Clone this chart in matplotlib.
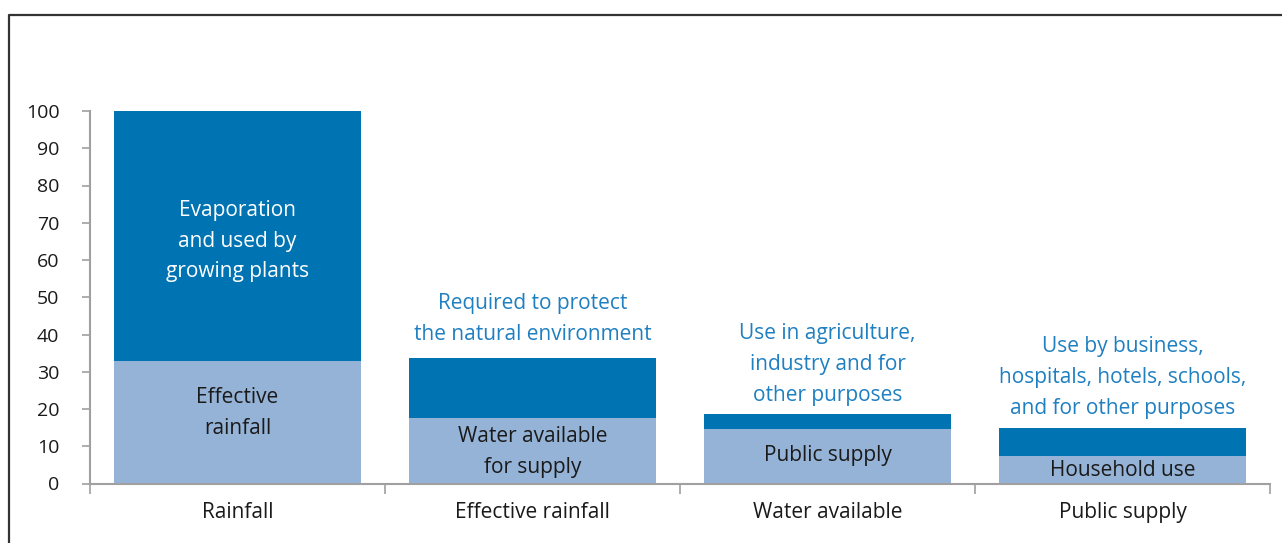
import numpy as np
import matplotlib
matplotlib.use("Agg")
import matplotlib.pyplot as plt
from matplotlib.lines import Line2D

plt.rcParams["font.family"] = ["Open Sans", "DejaVu Sans"]

categories = ["Rainfall", "Effective rainfall", "Water available", "Public supply"]
lower = [33.0, 17.7, 14.5, 7.3]
upper = [67.0, 15.9, 4.1, 7.7]
lower_labels = ["Effective\nrainfall", "Water available\nfor supply", "Public supply", "Household use"]
lower_label_y = [19.0, 8.5, 7.4, 3.4]
upper_labels = ["Evaporation\nand used by\ngrowing plants",
                "Required to protect\nthe natural environment",
                "Use in agriculture,\nindustry and for\nother purposes",
                "Use by business,\nhospitals, hotels, schools,\nand for other purposes"]
note_offsets = [0, 9.5, 6, 6]
yticks = list(range(0, 101, 10))

DARK = "#0073b3"
LIGHT = "#95b3d7"
NOTE = "#1e7fc1"
AXIS = "#a0a0a0"
FS = 15
LS = 1.62

fig = plt.figure(figsize=(12.82, 5.43), dpi=100)
ax = fig.add_axes([90 / 1282, 1 - 483.5 / 543, 1180 / 1282, 372.5 / 543])

x = np.arange(len(categories))
ax.bar(x, lower, width=0.84, color=LIGHT, linewidth=0)
ax.bar(x, upper, bottom=lower, width=0.84, color=DARK, linewidth=0)

ax.set_xlim(-0.5, len(categories) - 0.5)
ax.set_ylim(0, 100)

for i in x:
    ax.text(i, lower_label_y[i], lower_labels[i], ha="center", va="center",
            fontsize=FS, color="#1a1a1a", linespacing=LS)
    total = lower[i] + upper[i]
    if i == 0:
        ax.text(i, 65.1, upper_labels[i], ha="center", va="center",
                fontsize=FS, color="white", linespacing=LS)
    else:
        ax.annotate(upper_labels[i], xy=(i, total), xytext=(0, note_offsets[i]),
                    textcoords="offset points", ha="center", va="bottom",
                    fontsize=FS, color=NOTE, linespacing=LS)

for s in ["top", "right"]:
    ax.spines[s].set_visible(False)
for s in ["left", "bottom"]:
    ax.spines[s].set_color(AXIS)
    ax.spines[s].set_linewidth(1.5)

ax.set_yticks(yticks)
ax.tick_params(axis="y", length=6, width=1.2, color=AXIS, pad=16, labelsize=14,
               labelcolor="#1a1a1a")
ax.set_xticks(np.arange(-0.5, len(categories), 1.0))
ax.set_xticklabels([])
ax.tick_params(axis="x", which="major", length=7, width=1.2, color=AXIS)
ax.set_xticks(x, minor=True)
ax.set_xticklabels(categories, minor=True)
ax.tick_params(axis="x", which="minor", length=0, pad=13, labelsize=FS,
               labelcolor="#1a1a1a")

# outer frame
fx0, fy0 = 8.5 / 1282, 1 - 15 / 543
fig.add_artist(Line2D([fx0, fx0, 1.0], [0.0, fy0, fy0], transform=fig.transFigure,
                      color="#333333", linewidth=1.6))

fig.savefig("out.png", dpi=100)
